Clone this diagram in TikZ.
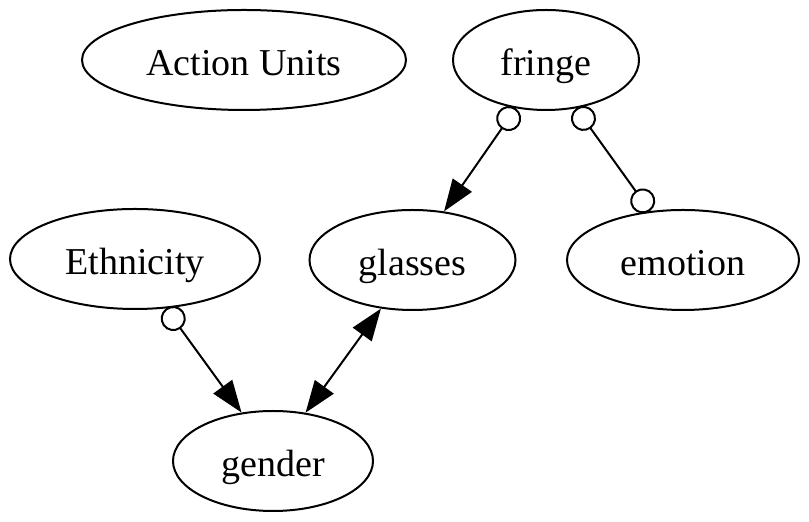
\documentclass[tikz,border=0pt]{standalone}
\usepackage{fontspec}
\setmainfont{Liberation Serif}
\usetikzlibrary{shapes.geometric,arrows.meta}
\tikzset{
  nd/.style={ellipse, draw, line width=1pt, inner sep=0pt, minimum height=50pt,
    text height=16pt, text depth=0pt,
    font=\fontsize{19}{23}\selectfont},
  edge/.style={line width=1pt},
  tri/.tip={Triangle[length=16pt, width=11.5pt]},
  odt/.tip={Circle[open, length=12.5pt, width=12.5pt, line width=1pt]}
}
\begin{document}
\begin{tikzpicture}[x=0.5pt, y=-0.5pt]
\useasboundingbox (0,0) rectangle (809,522);
\node[nd, minimum width=162pt] (au) at (244,60) {Action Units};
\node[nd, minimum width=93pt] (fringe) at (546,60) {fringe};
\node[nd, minimum width=125pt] (eth) at (135,259) {Ethnicity};
\node[nd, minimum width=103pt] (glasses) at (412.5,260) {glasses};
\node[nd, minimum width=116pt] (emotion) at (683,260) {emotion};
\node[nd, minimum width=100pt] (gender) at (273,461) {gender};
\draw[edge, {odt}-{tri}] (fringe.-122) -- (glasses.57);
\draw[edge, {odt}-{odt}] (fringe.-58) -- (emotion.124);
\draw[edge, {odt}-{tri}] (eth.-58) -- (gender.123);
\draw[edge, {tri}-{tri}] (glasses.-123) -- (gender.56);
\end{tikzpicture}
\end{document}
